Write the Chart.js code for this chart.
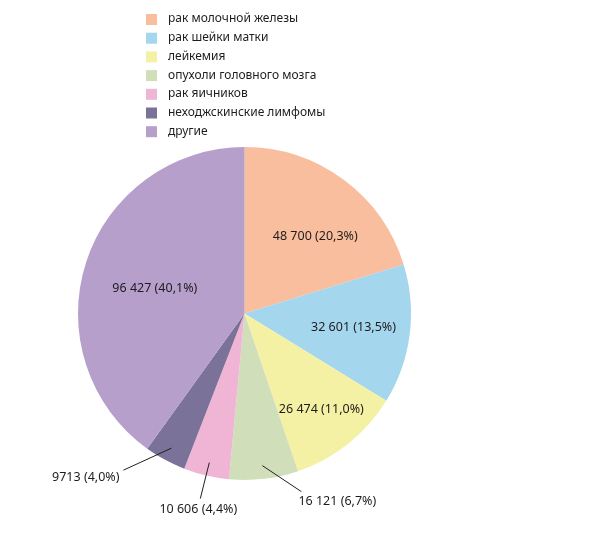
<!DOCTYPE html>
<html>
<head>
<meta charset="utf-8">
<script src="https://cdn.jsdelivr.net/npm/chart.js@4"></script>
<style>
  html, body { margin: 0; padding: 0; background: #fff; }
  #wrap { position: relative; width: 599px; height: 550px; }
</style>
</head>
<body>
<div id="wrap"><canvas id="pieChart" width="599" height="550"></canvas></div>
<script>
// data
const categories = ['рак молочной железы', 'рак шейки матки', 'лейкемия', 'опухоли головного мозга', 'рак яичников', 'неходжскинские лимфомы', 'другие'];
const cases = [48700, 32601, 26474, 16121, 10606, 9713, 96427];
const shares = ['20,3', '13,5', '11,0', '6,7', '4,4', '4,0', '40,1'];
const colors = ['#f9be9d', '#a4d6ee', '#f5f1a4', '#d0dfba', '#f0b5d5', '#7a7299', '#b69fcb'];

const FONT = '"Noto Sans", sans-serif';
const TEXT = '#1f1c1d';

function fmt(n) {
    // russian style: 4-digit numbers not grouped
    if (n < 10000) return String(n);
    return String(n).replace(/\B(?=(\d{3})+(?!\d))/g, ' ');
}

// label placement: inside slices by radius fraction, small ones outside with a leader line
const labelPos = [
    { r: 0.63, da: 6 },
    { r: 0.66 },
    { r: 0.74 },
    { out: true, dx: 39, dy: 26, align: 'left', tx: 36, ty: 36 },
    { out: true, dx: -9, dy: 36, align: 'center', tx: -11, ty: 47 },
    { out: true, dx: -48, dy: 22, align: 'right', tx: -52, ty: 29 },
    { r: 0.56, da: -2 }
];

const sliceLabels = {
    id: 'sliceLabels',
    afterDatasetsDraw(chart) {
        const ctx = chart.ctx;
        const meta = chart.getDatasetMeta(0);
        ctx.save();
        ctx.font = '12.5px ' + FONT;
        ctx.fillStyle = TEXT;
        ctx.strokeStyle = '#231f20';
        ctx.lineWidth = 1;
        ctx.textBaseline = 'middle';
        meta.data.forEach((arc, i) => {
            const p = arc.getProps(['x', 'y', 'startAngle', 'endAngle', 'outerRadius']);
            const pos = labelPos[i];
            const mid = (p.startAngle + p.endAngle) / 2 + (pos.da || 0) * Math.PI / 180;
            const txt = fmt(cases[i]) + ' (' + shares[i] + '%)';
            if (pos.out) {
                const sx = p.x + Math.cos(mid) * p.outerRadius * 0.92;
                const sy = p.y + Math.sin(mid) * p.outerRadius * 0.92;
                ctx.beginPath();
                ctx.moveTo(sx, sy);
                ctx.lineTo(sx + pos.dx, sy + pos.dy);
                ctx.stroke();
                ctx.textAlign = pos.align;
                ctx.fillText(txt, sx + pos.tx, sy + pos.ty);
            } else {
                ctx.textAlign = 'center';
                ctx.fillText(txt, p.x + Math.cos(mid) * p.outerRadius * pos.r, p.y + Math.sin(mid) * p.outerRadius * pos.r);
            }
        });
        ctx.restore();
    }
};

// vertical legend in the top area
const sideLegend = {
    id: 'sideLegend',
    afterDraw(chart) {
        const ctx = chart.ctx;
        ctx.save();
        ctx.font = '12px ' + FONT;
        ctx.textBaseline = 'middle';
        ctx.textAlign = 'left';
        chart.data.labels.forEach((lab, i) => {
            const y = 19 + i * 18.7;
            ctx.fillStyle = colors[i];
            ctx.fillRect(146, y - 5, 11, 11);
            ctx.fillStyle = TEXT;
            ctx.fillText(lab, 168, y);
        });
        ctx.restore();
    }
};

new Chart(document.getElementById('pieChart'), {
    type: 'pie',
    data: {
        labels: categories,
        datasets: [{
            data: cases,
            backgroundColor: colors,
            borderWidth: 0,
            hoverOffset: 0
        }]
    },
    options: {
        responsive: false,
        animation: false,
        layout: { padding: { left: 78, right: 188, top: 147, bottom: 70 } },
        plugins: {
            legend: { display: false },
            tooltip: { enabled: false }
        }
    },
    plugins: [sliceLabels, sideLegend]
});
</script>
</body>
</html>
